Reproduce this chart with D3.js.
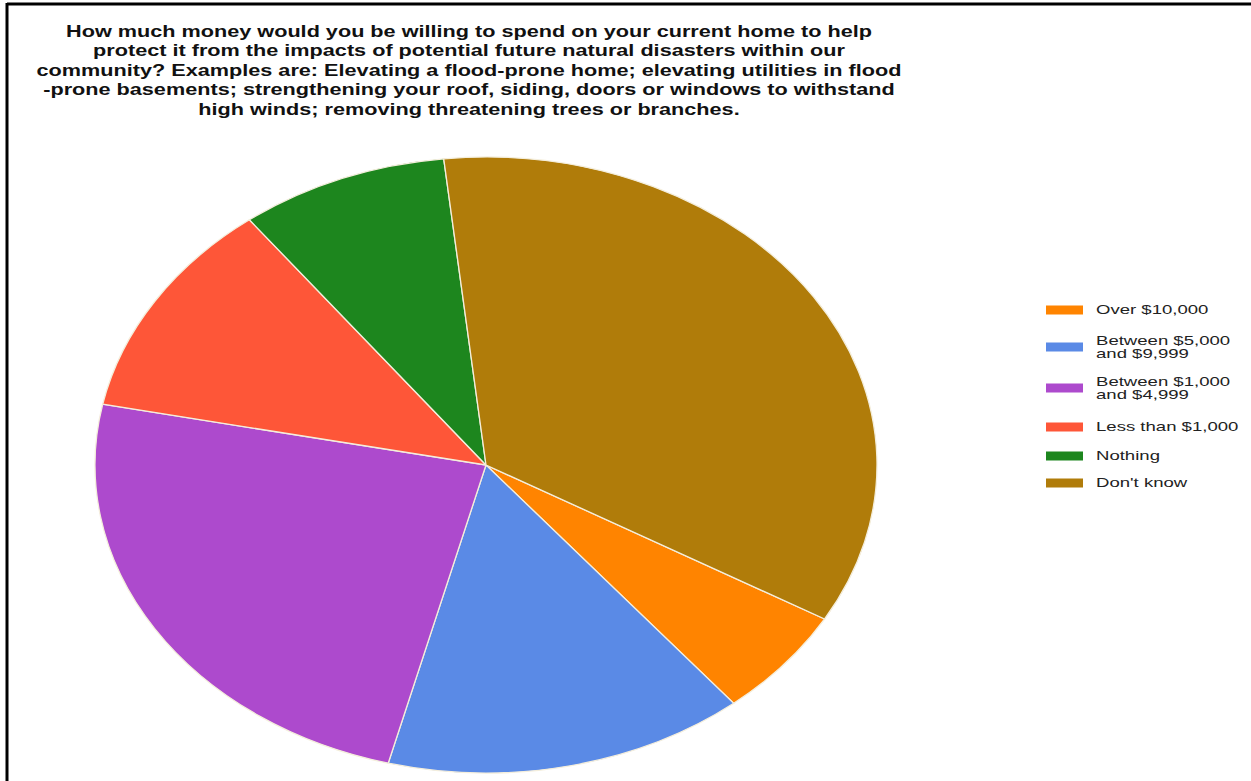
<!DOCTYPE html>
<html>
<head>
<meta charset="utf-8">
<script src="https://cdn.jsdelivr.net/npm/d3@7"></script>
<style>
  html, body { margin: 0; padding: 0; background: #fff; }
  svg { display: block; }
</style>
</head>
<body>
<svg id="chart" width="1251" height="781"></svg>
<script>
// Survey responses (counts) for each spending bracket
const categories = ["Over $10,000", "Between $5,000 and $9,999", "Between $1,000 and $4,999", "Less than $1,000", "Nothing", "Don't know"];
const legendLines = [["Over $10,000"], ["Between $5,000", "and $9,999"], ["Between $1,000", "and $4,999"], ["Less than $1,000"], ["Nothing"], ["Don't know"]];
const values = [10, 26, 42, 20, 15, 61];
const colors = ["#ff8400", "#5a8ae6", "#ad4acd", "#fe5638", "#1d861e", "#b07c0a"];

const titleLines = [
  "How much money would you be willing to spend on your current home to help",
  "protect it from the impacts of potential future natural disasters within our",
  "community? Examples are: Elevating a flood-prone home; elevating utilities in flood",
  "-prone basements; strengthening your roof, siding, doors or windows to withstand",
  "high winds; removing threatening trees or branches."
];

// The whole chart is laid out wide: text is stretched horizontally
const stretch = 1.38;

const svg = d3.select("#chart");

// Frame lines along the top and left edges
svg.append("line").attr("x1", 7).attr("y1", 4).attr("x2", 1251).attr("y2", 4)
  .attr("stroke", "#000").attr("stroke-width", 3);
svg.append("line").attr("x1", 7).attr("y1", 3).attr("x2", 7).attr("y2", 781)
  .attr("stroke", "#000").attr("stroke-width", 3);

// Title
const title = svg.append("g")
  .attr("transform", `translate(469,0) scale(${stretch},1)`)
  .append("text")
  .attr("text-anchor", "middle")
  .attr("font-family", "Liberation Sans, Arial, sans-serif")
  .attr("font-weight", "bold")
  .attr("font-size", 15.7)
  .attr("fill", "#111");
titleLines.forEach((t, i) => {
  title.append("tspan").attr("x", 0).attr("y", 37 + i * 19.5).text(t);
});

// Pie, drawn as a horizontally widened ellipse
const cx = 486, cy = 465, rx = 391, ry = 308;
const start = 120 * Math.PI / 180;
const pie = d3.pie().sort(null).value(d => d)
  .startAngle(start).endAngle(start + 2 * Math.PI);
const arc = d3.arc().innerRadius(0).outerRadius(ry);

const g = svg.append("g")
  .attr("transform", `translate(${cx},${cy}) scale(${rx / ry},1)`);
g.selectAll("path")
  .data(pie(values))
  .join("path")
  .attr("d", arc)
  .attr("fill", (d, i) => colors[i])
  .attr("stroke", "#f4eedc")
  .attr("stroke-width", 1.3)
  .attr("vector-effect", "non-scaling-stroke");

// Legend
const legendY = [310, 347, 388, 427, 456, 483];
const legend = svg.append("g");
const legendText = svg.append("g")
  .attr("transform", `translate(1096,0) scale(1.45,1)`)
  .attr("font-family", "Liberation Sans, Arial, sans-serif")
  .attr("font-size", 12.8)
  .attr("fill", "#222");
categories.forEach((c, i) => {
  const y = legendY[i];
  legend.append("rect")
    .attr("x", 1046).attr("y", y - 4.5)
    .attr("width", 37).attr("height", 9)
    .attr("fill", colors[i]);
  const lines = legendLines[i];
  const t = legendText.append("text");
  lines.forEach((ln, j) => {
    const off = lines.length === 1 ? 0 : (j === 0 ? -6 : 6.5);
    t.append("tspan").attr("x", 0).attr("y", y + off).attr("dy", "0.35em").text(ln);
  });
});
</script>
</body>
</html>
